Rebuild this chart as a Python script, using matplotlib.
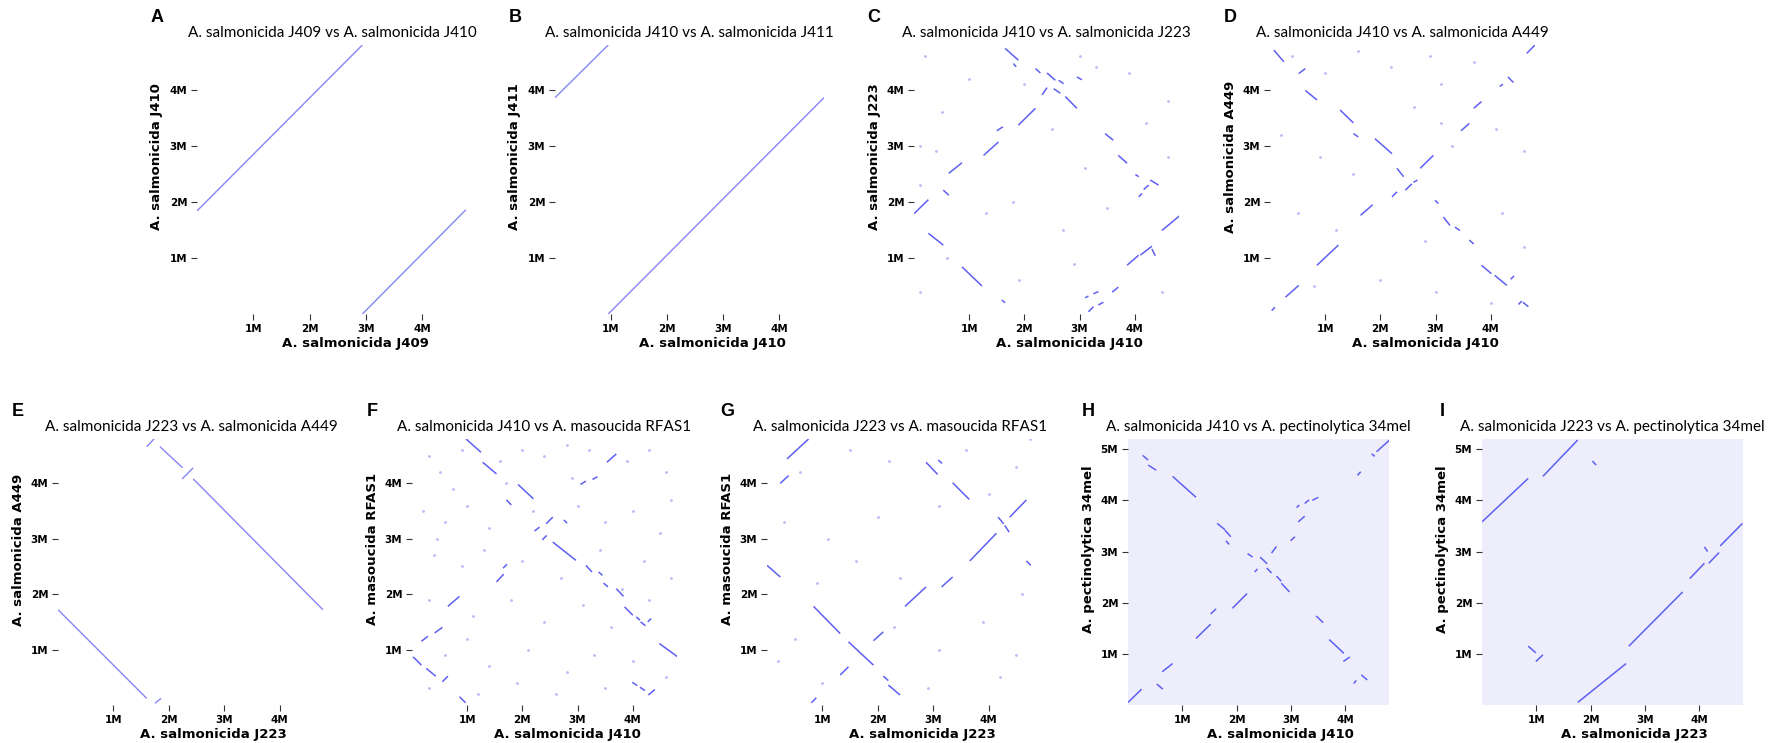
import matplotlib.pyplot as plt
from matplotlib.collections import LineCollection

# ---- data (positions in Mb) ----
letters = ["A", "B", "C", "D", "E", "F", "G", "H", "I"]
titles = [
    "A. salmonicida J409 vs A. salmonicida J410",
    "A. salmonicida J410 vs A. salmonicida J411",
    "A. salmonicida J410 vs A. salmonicida J223",
    "A. salmonicida J410 vs A. salmonicida A449",
    "A. salmonicida J223 vs A. salmonicida A449",
    "A. salmonicida J410 vs A. masoucida RFAS1",
    "A. salmonicida J223 vs A. masoucida RFAS1",
    "A. salmonicida J410 vs A. pectinolytica 34mel",
    "A. salmonicida J223 vs A. pectinolytica 34mel",
]
x_labels = ["A. salmonicida J409", "A. salmonicida J410", "A. salmonicida J410",
            "A. salmonicida J410", "A. salmonicida J223", "A. salmonicida J410",
            "A. salmonicida J223", "A. salmonicida J410", "A. salmonicida J223"]
y_labels = ["A. salmonicida J410", "A. salmonicida J411", "A. salmonicida J223",
            "A. salmonicida A449", "A. salmonicida A449", "A. masoucida RFAS1",
            "A. masoucida RFAS1", "A. pectinolytica 34mel", "A. pectinolytica 34mel"]
x_max = [4.8, 4.8, 4.8, 4.8, 4.8, 4.8, 4.8, 4.8, 4.8]
y_max = [4.8, 4.8, 4.8, 4.8, 4.8, 4.8, 4.8, 5.2, 5.2]
x_ticks = [1, 2, 3, 4]
y_ticks_short = [1, 2, 3, 4]
y_ticks_long = [1, 2, 3, 4, 5]

# each match: (x start, y start, x end, y end)
seg_A = [(0.0, 1.84, 2.94, 4.8), (2.94, 0.0, 4.78, 1.86)]
seg_B = [(0.0, 3.86, 0.95, 4.8), (0.95, 0.0, 4.8, 3.86)]
seg_C = [(1.65, 4.74, 1.89, 4.53), (1.80, 4.47, 1.85, 4.41), (2.20, 4.38, 2.29, 4.30),
         (2.41, 4.30, 2.56, 4.17), (2.62, 4.17, 2.71, 4.11), (2.32, 3.91, 2.41, 4.04),
         (2.53, 4.02, 2.65, 3.94), (2.74, 3.88, 2.95, 3.67), (1.89, 3.37, 2.20, 3.67),
         (1.50, 3.27, 1.61, 3.34), (1.26, 2.83, 1.53, 3.07), (0.63, 2.51, 0.87, 2.70),
         (0.53, 2.21, 0.63, 2.12), (0.0, 1.79, 0.26, 2.04), (0.26, 1.44, 0.53, 1.23),
         (0.87, 0.84, 1.23, 0.50), (1.59, 0.25, 1.65, 0.20), (3.46, 3.22, 3.61, 3.10),
         (3.70, 2.83, 3.86, 2.69), (4.01, 2.49, 4.07, 2.45), (4.28, 2.39, 4.43, 2.30),
         (4.16, 2.22, 4.25, 2.30), (4.07, 2.09, 4.13, 2.15), (4.49, 1.49, 4.82, 1.76),
         (3.86, 0.87, 4.07, 1.05), (4.10, 1.05, 4.31, 1.21), (4.31, 1.16, 4.37, 1.04),
         (3.59, 0.39, 3.70, 0.48), (3.34, 0.16, 3.43, 0.21), (3.16, 0.04, 3.25, 0.13),
         (3.25, 0.36, 3.34, 0.40), (3.10, 0.29, 3.16, 0.32), (2.95, 4.23, 3.04, 4.18)]
seg_D = [(0.07, 4.71, 0.25, 4.50), (0.52, 4.29, 0.64, 4.38), (0.64, 3.99, 0.85, 3.82),
         (1.27, 3.64, 1.51, 3.41), (1.51, 3.22, 1.60, 3.16), (1.90, 3.13, 2.21, 2.86),
         (2.30, 2.60, 2.42, 2.45), (1.64, 1.76, 1.86, 1.95), (0.85, 0.87, 1.24, 1.23),
         (0.28, 0.30, 0.52, 0.51), (0.03, 0.06, 0.09, 0.12), (4.65, 4.65, 4.80, 4.80),
         (4.31, 4.23, 4.41, 4.13), (4.16, 4.06, 4.22, 4.10), (3.69, 3.67, 3.83, 3.79),
         (3.46, 3.27, 3.61, 3.40), (2.72, 2.60, 2.96, 2.83), (2.45, 2.21, 2.57, 2.32),
         (2.21, 2.09, 2.30, 2.18), (2.60, 2.35, 2.67, 2.39), (2.99, 2.03, 3.05, 1.97),
         (3.14, 1.73, 3.26, 1.58), (3.35, 1.55, 3.44, 1.49), (3.61, 1.32, 3.69, 1.25),
         (3.83, 0.87, 4.01, 0.72), (4.07, 0.69, 4.29, 0.51), (4.36, 0.62, 4.42, 0.68),
         (4.58, 0.21, 4.68, 0.13), (4.50, 0.17, 4.56, 0.23)]
seg_E = [(1.60, 4.66, 1.76, 4.83), (1.84, 4.66, 2.25, 4.28), (2.24, 4.08, 2.44, 4.28),
         (2.44, 4.08, 4.78, 1.72), (0.0, 1.72, 1.60, 0.12), (1.75, 0.03, 1.86, 0.12)]
seg_F = [(0.98, 4.80, 1.25, 4.56), (1.28, 4.38, 1.53, 4.17), (1.92, 3.98, 2.20, 3.72),
         (1.71, 3.70, 1.80, 3.61), (2.43, 3.27, 2.55, 3.39), (2.22, 3.14, 2.31, 3.21),
         (2.36, 2.98, 2.44, 3.06), (2.55, 2.94, 2.97, 2.61), (3.15, 2.52, 3.26, 2.40),
         (3.38, 2.40, 3.45, 2.34), (3.47, 2.20, 3.55, 2.13), (3.70, 2.10, 3.83, 1.96),
         (3.85, 1.77, 4.00, 1.62), (4.06, 1.59, 4.13, 1.53), (4.14, 1.50, 4.23, 1.43),
         (4.27, 1.50, 4.33, 1.56), (4.48, 1.11, 4.81, 0.87), (3.99, 0.41, 4.08, 0.35),
         (4.13, 0.32, 4.22, 0.26), (4.28, 0.18, 4.40, 0.28), (0.02, 0.87, 0.17, 0.72),
         (0.26, 0.66, 0.43, 0.52), (0.55, 0.42, 0.65, 0.52), (0.86, 0.15, 0.97, 0.04),
         (0.17, 1.15, 0.29, 1.24), (0.41, 1.30, 0.55, 1.40), (0.65, 1.78, 0.86, 1.96),
         (1.53, 2.22, 1.66, 2.36), (1.65, 2.47, 1.72, 2.54), (3.05, 3.98, 3.15, 4.04),
         (3.27, 4.07, 3.36, 4.12), (3.53, 4.38, 3.70, 4.53), (2.75, 3.34, 2.81, 3.28)]
seg_G = [(0.36, 4.44, 0.75, 4.80), (0.24, 4.00, 0.39, 4.14), (0.0, 2.52, 0.24, 2.31),
         (0.84, 1.78, 1.32, 1.29), (1.32, 0.54, 1.47, 0.69), (0.80, 0.04, 0.89, 0.13),
         (1.47, 1.14, 1.92, 0.72), (1.92, 1.16, 2.10, 1.32), (2.10, 0.52, 2.19, 0.44),
         (2.19, 0.36, 2.40, 0.18), (2.49, 1.78, 2.87, 2.13), (3.15, 2.13, 3.35, 2.31),
         (3.66, 2.60, 4.14, 3.10), (4.17, 3.39, 4.27, 3.27), (4.29, 3.24, 4.37, 3.12),
         (4.38, 3.39, 4.68, 3.70), (4.68, 2.60, 4.76, 2.52), (2.87, 4.38, 3.08, 4.16),
         (3.09, 4.42, 3.16, 4.36), (3.35, 4.01, 3.65, 3.71)]
seg_H = [(0.0, 0.05, 0.25, 0.31), (0.53, 0.41, 0.64, 0.31), (0.63, 0.65, 0.82, 0.81),
         (0.27, 4.88, 0.37, 4.79), (0.37, 4.69, 0.52, 4.59), (0.82, 4.47, 1.25, 4.06),
         (1.64, 3.55, 1.78, 3.43), (1.78, 3.42, 1.89, 3.29), (1.80, 3.21, 1.86, 3.14),
         (1.25, 1.30, 1.52, 1.58), (1.52, 1.78, 1.62, 1.88), (1.92, 1.89, 2.19, 2.18),
         (2.20, 2.96, 2.29, 2.89), (2.43, 2.89, 2.56, 2.76), (2.55, 2.68, 2.64, 2.58),
         (2.73, 2.52, 2.82, 2.42), (2.82, 2.38, 2.97, 2.21), (2.64, 2.97, 2.73, 3.10),
         (2.99, 3.21, 3.07, 3.29), (3.13, 3.58, 3.25, 3.69), (3.10, 3.86, 3.15, 3.91),
         (3.25, 3.94, 3.33, 4.01), (3.39, 4.00, 3.50, 4.06), (4.22, 4.49, 4.28, 4.56),
         (4.48, 4.91, 4.54, 4.86), (4.57, 4.95, 4.81, 5.18), (3.46, 1.74, 3.59, 1.61),
         (3.70, 1.28, 3.97, 1.01), (3.96, 0.85, 4.08, 0.94), (4.29, 0.59, 4.40, 0.49),
         (4.15, 0.42, 4.20, 0.48), (2.33, 2.60, 2.38, 2.66)]
seg_I = [(0.0, 3.58, 0.85, 4.43), (1.12, 4.47, 1.76, 5.18), (2.03, 4.77, 2.10, 4.69),
         (0.85, 1.15, 0.99, 1.02), (0.99, 0.85, 1.12, 0.98), (1.76, 0.05, 2.65, 0.81),
         (2.70, 1.15, 3.69, 2.21), (3.82, 2.47, 4.09, 2.77), (4.09, 3.09, 4.15, 3.00),
         (4.17, 2.77, 4.36, 2.98), (4.38, 3.11, 4.79, 3.55)]
segments = [seg_A, seg_B, seg_C, seg_D, seg_E, seg_F, seg_G, seg_H, seg_I]

# faint short hits scattered over the sparse panels (x, y in Mb)
dots_C = [(0.2, 4.6), (0.5, 3.6), (1.0, 4.2), (2.5, 3.3), (3.1, 2.6), (3.9, 4.3),
          (4.6, 3.8), (0.4, 2.9), (1.8, 2.0), (2.7, 1.5), (3.5, 1.9), (4.6, 2.8),
          (0.6, 1.0), (1.9, 0.6), (2.9, 0.9), (4.5, 0.4), (1.3, 1.8), (3.0, 4.6),
          (4.2, 3.4), (0.1, 0.4), (0.1, 3.0), (0.1, 2.3), (2.0, 4.1), (3.3, 4.4)]
dots_D = [(0.4, 4.6), (1.0, 4.3), (1.6, 4.7), (2.2, 4.4), (2.9, 4.6), (3.7, 4.5),
          (0.2, 3.2), (0.9, 2.8), (1.5, 2.5), (2.6, 3.7), (3.3, 3.0), (4.1, 3.3),
          (4.6, 2.9), (0.5, 1.8), (1.2, 1.5), (2.8, 1.3), (4.2, 1.8), (0.8, 0.5),
          (2.0, 0.6), (3.0, 0.4), (4.0, 0.2), (4.6, 1.2), (3.1, 4.1), (3.1, 3.4)]
dots_F = [(0.3, 4.5), (0.5, 4.2), (0.75, 3.9), (0.9, 4.6), (1.6, 4.4), (2.0, 4.6),
          (2.4, 4.5), (2.8, 4.7), (3.2, 4.6), (3.9, 4.4), (4.3, 4.6), (4.6, 4.2),
          (0.2, 3.5), (0.6, 3.3), (1.0, 3.6), (1.4, 3.2), (2.2, 3.5), (3.0, 3.6),
          (3.5, 3.3), (4.0, 3.5), (4.5, 3.1), (0.4, 2.7), (0.9, 2.5), (1.3, 2.8),
          (2.0, 2.6), (2.7, 2.3), (3.4, 2.8), (4.2, 2.6), (4.7, 2.3), (0.3, 1.9),
          (1.1, 1.6), (1.8, 1.9), (2.4, 1.5), (3.1, 1.8), (3.6, 1.4), (4.3, 1.9),
          (0.6, 0.9), (1.4, 0.7), (2.1, 1.0), (2.8, 0.6), (3.3, 0.9), (4.0, 0.8),
          (4.6, 0.5), (0.3, 0.3), (1.2, 0.2), (1.9, 0.4), (2.6, 0.2), (3.5, 0.3),
          (0.45, 3.0), (1.7, 4.0), (2.9, 4.1), (3.8, 2.1), (1.0, 1.2), (4.7, 3.7)]
dots_G = [(0.6, 4.2), (1.5, 4.6), (2.2, 4.4), (3.6, 4.6), (4.5, 4.3), (0.3, 3.3),
          (1.1, 3.0), (2.0, 3.4), (3.1, 3.6), (4.0, 3.8), (0.9, 2.2), (1.6, 2.6),
          (2.4, 2.3), (4.6, 2.0), (0.5, 1.2), (2.3, 1.4), (3.1, 1.0), (3.9, 1.5),
          (4.5, 0.9), (1.0, 0.4), (2.9, 0.3), (4.2, 0.5), (0.2, 0.8), (4.75, 4.8)]
dots = [[], [], dots_C, dots_D, [], dots_F, dots_G, [], []]
dense_background = [False] * 7 + [True, True]

# ---- layout: plot frames in pixels (left, bottom from top, width, height) ----
W, H = 1774, 743
frames = [(197, 314, 270, 269), (555, 314, 269, 269), (914, 314, 265, 269),
          (1270, 314, 265, 269), (58, 705, 266, 266), (412, 705, 265, 266),
          (767, 705, 266, 266), (1128, 705, 261, 266), (1482, 705, 261, 266)]

line_col = "#5f5ff2"
title_font = "Lato"

fig = plt.figure(figsize=(W / 100, H / 100), dpi=100)

for i in range(9):
    left, bottom, w, h = frames[i]
    ax = fig.add_axes([left / W, 1 - bottom / H, w / W, h / H])
    if dense_background[i]:
        ax.set_facecolor("#ededfc")
    if dots[i]:
        ax.scatter([d[0] for d in dots[i]], [d[1] for d in dots[i]], s=4,
                   color="#b9b9f8", linewidths=0)
    segs = [[(s[0], s[1]), (s[2], s[3])] for s in segments[i]]
    if i in (0, 1, 4):
        ax.add_collection(LineCollection(segs, colors="#8585f7", linewidths=1.0))
    else:
        ax.add_collection(LineCollection(segs, colors=line_col, linewidths=1.1))
    ax.set_xlim(0, x_max[i])
    ax.set_ylim(0, y_max[i])
    for sp in ax.spines.values():
        sp.set_visible(False)
    ax.set_xticks(x_ticks)
    ax.set_xticklabels([f"{t}M" for t in x_ticks])
    yt = y_ticks_long if y_max[i] > 5 else y_ticks_short
    ax.set_yticks(yt)
    ax.set_yticklabels([f"{t}M" for t in yt])
    ax.tick_params(axis="both", direction="out", length=4, width=0.8, color="#333333",
                   labelsize=7.5, pad=3)
    for lab in ax.get_xticklabels() + ax.get_yticklabels():
        lab.set_fontweight("bold")
    ax.set_xlabel(x_labels[i], fontsize=9.5, fontweight="bold", labelpad=3)
    ax.set_ylabel(y_labels[i], fontsize=9.5, fontweight="bold", labelpad=3)
    ax.xaxis.set_label_coords(0.585, -0.085)
    ax.yaxis.set_label_coords(-0.125, 0.585)
    ax.set_title(titles[i], fontsize=11, family=title_font, pad=6)
    fig.text((left - 40) / W, 1 - (bottom - h - 27) / H, letters[i],
             fontsize=13, fontweight="bold", family="Liberation Sans",
             ha="center", va="center")

fig.savefig("out.png", dpi=100)
